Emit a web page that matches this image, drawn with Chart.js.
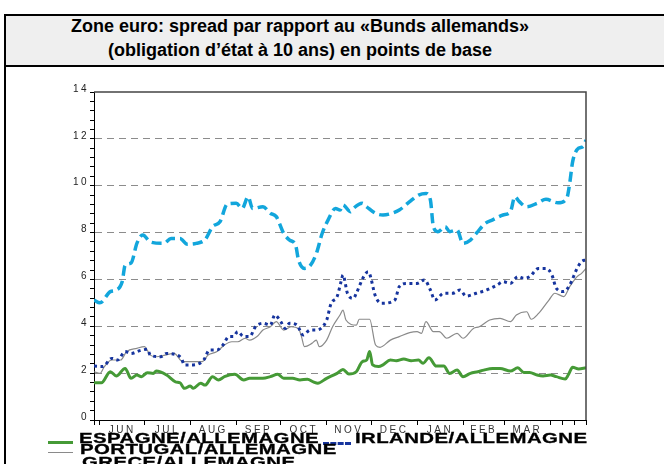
<html lang="fr">
<head>
<meta charset="UTF-8">
<title>Zone euro spread</title>
<script src="https://cdn.jsdelivr.net/npm/chart.js"></script>
<style>
    body { margin: 0; background: #fff; font-family: "Liberation Sans", Arial, sans-serif; }
    #wrap { position: relative; width: 664px; height: 464px; overflow: hidden; }
    #chart { position: absolute; left: 0; top: 0; }
    #titleBox {
        position: absolute; left: 4px; top: 14px; width: 720px; height: 49px;
        background: #efefef; border-top: 2px solid #000; border-bottom: 2px solid #000; border-left: 2px solid #000;
    }
    #titleBox div {
        position: absolute; left: 0; width: 588px; text-align: center;
        font-weight: bold; font-size: 18px; line-height: 20px; color: #000;
    }
    #leftBorder { position: absolute; left: 4px; top: 60px; width: 2px; height: 410px; background: #000; }
    .leg {
        position: absolute; font-weight: bold; font-size: 15px; line-height: 15px; letter-spacing: 0.3px;
        color: #000; white-space: nowrap; -webkit-text-stroke: 0.3px #000;
        transform: scaleX(1.36); transform-origin: 0 0;
    }
    .swatch { position: absolute; }
</style>
</head>
<body>
<div id="wrap">
    <canvas id="chart" width="664" height="464"></canvas>
    <div id="leftBorder"></div>
    <div id="titleBox">
        <div style="top:0">Zone euro: spread par rapport au «Bunds allemands»</div>
        <div style="top:24px">(obligation d’état à 10 ans) en points de base</div>
    </div>
    <div class="swatch" style="left:48px;top:441px;width:25px;height:3px;background:#459a36"></div>
    <div class="leg" style="left:79px;top:430px">ESPAGNE/ALLEMAGNE</div>
    <div class="swatch" style="left:323px;top:442px;width:28px;height:0;border-top:3px dashed #16349e"></div>
    <div class="leg" style="left:355px;top:430px">IRLANDE/ALLEMAGNE</div>
    <div class="swatch" style="left:48px;top:452px;width:25px;height:1px;background:#8a8a8a"></div>
    <div class="leg" style="left:80px;top:441px">PORTUGAL/ALLEMAGNE</div>
    <div class="leg" style="left:82px;top:454px">GRECE/ALLEMAGNE</div>
</div>

<script>
    // x = days from 28 May 2010
    const monthBounds = [0, 4, 34, 65, 96, 126, 157, 187, 218, 249, 277, 308, 316, 324, 332];
    const monthMids = [19, 49.5, 80.5, 111, 141.5, 172, 202.5, 233.5, 263, 292.5];
    const monthLabels = ['JUN', 'JUL', 'AUG', 'SEP', 'OCT', 'NOV', 'DEC', 'JAN', 'FEB', 'MAR'];

    const spainDays = [0, 5, 11, 15, 21, 25, 29, 32, 36, 40, 42, 49, 55, 58, 61, 65, 67, 72, 75, 80, 84, 88, 95, 101, 105, 114, 119, 124, 128, 134, 139, 144, 148, 151, 157, 164, 168, 172, 177, 181, 184, 186, 188, 192, 195, 200, 204, 209, 214, 219, 222, 226, 231, 236, 240, 245, 249, 254, 259, 263, 269, 274, 281, 286, 290, 294, 299, 303, 308, 312, 318, 320, 323, 327, 332];
    const spainValues = [1.59, 1.59, 2.06, 1.88, 2.2, 1.78, 1.92, 1.85, 2.02, 1.99, 2.09, 1.92, 1.63, 1.59, 1.35, 1.45, 1.35, 1.57, 1.49, 1.85, 1.71, 1.85, 1.95, 1.71, 1.78, 1.78, 1.85, 1.95, 1.78, 1.78, 1.71, 1.74, 1.63, 1.57, 1.78, 1.99, 2.16, 1.96, 2.06, 2.49, 2.56, 2.92, 2.35, 2.28, 2.35, 2.56, 2.53, 2.6, 2.53, 2.56, 2.42, 2.66, 2.3, 2.3, 1.99, 2.13, 1.85, 1.99, 2.06, 2.13, 2.2, 2.2, 2.09, 2.23, 2.03, 2.03, 1.92, 1.88, 1.92, 1.85, 1.75, 1.92, 2.25, 2.18, 2.23];

    const irelandDays = [0, 6, 12, 16, 21, 25, 31, 36, 38, 45, 49, 56, 59, 61, 67, 74, 78, 83, 87, 91, 94, 97, 101, 105, 109, 114, 119, 122, 126, 129, 132, 137, 141, 146, 150, 157, 160, 164, 167, 168, 171, 175, 177, 182, 185, 190, 194, 203, 206, 211, 218, 223, 227, 230, 236, 242, 247, 251, 258, 265, 272, 276, 281, 286, 290, 294, 300, 305, 309, 312, 317, 321, 326, 329, 332];
    const irelandValues = [2.3, 2.28, 2.63, 2.56, 2.92, 2.84, 2.96, 3.02, 2.77, 2.7, 2.84, 2.77, 2.63, 2.35, 2.35, 2.56, 2.99, 2.99, 3.2, 3.56, 3.56, 3.77, 3.56, 3.56, 3.98, 4.13, 4.05, 4.48, 4.2, 3.91, 4.13, 4.05, 3.63, 3.84, 3.84, 4.27, 4.98, 5.26, 5.98, 6.19, 5.41, 5.19, 5.41, 6.12, 6.33, 5.27, 4.98, 5.12, 5.69, 5.83, 5.83, 5.98, 5.55, 5.12, 5.41, 5.41, 5.55, 5.29, 5.41, 5.55, 5.76, 5.9, 5.83, 6.12, 6.05, 6.12, 6.47, 6.47, 6.19, 5.62, 5.48, 5.76, 6.47, 6.76, 6.83];

    const portugalDays = [0, 4, 7, 12, 18, 22, 29, 34, 38, 42, 48, 54, 60, 67, 73, 77, 83, 88, 93, 97, 102, 105, 110, 114, 119, 123, 128, 133, 138, 140, 142, 147, 150, 152, 157, 161, 166, 168, 170, 177, 179, 186, 190, 193, 200, 206, 213, 218, 221, 224, 229, 233, 238, 245, 249, 256, 260, 267, 274, 281, 285, 292, 295, 300, 307, 311, 317, 321, 326, 329, 332];
    const portugalValues = [2.06, 1.99, 2.28, 2.56, 2.56, 2.92, 3.06, 3.13, 2.77, 2.7, 2.77, 2.84, 2.49, 2.49, 2.49, 2.77, 2.92, 3.2, 3.34, 3.34, 3.49, 3.41, 3.56, 3.84, 3.98, 4.2, 3.84, 3.98, 3.91, 3.56, 3.13, 3.27, 3.41, 3.13, 3.41, 3.98, 4.48, 4.69, 4.27, 4.05, 4.3, 4.3, 3.2, 3.1, 3.41, 3.56, 3.73, 3.77, 3.7, 4.2, 3.77, 3.77, 3.49, 3.7, 3.49, 3.91, 3.98, 4.27, 4.34, 4.2, 4.48, 4.62, 4.3, 4.55, 5.12, 5.41, 5.27, 5.69, 6.12, 6.26, 6.47];

    const greeceDays = [0, 4, 11, 15, 19, 21, 25, 29, 33, 38, 47, 52, 58, 63, 69, 75, 80, 85, 90, 96, 100, 104, 107, 114, 119, 123, 128, 132, 136, 138, 142, 146, 150, 154, 158, 163, 166, 168, 173, 175, 181, 184, 190, 195, 201, 206, 213, 219, 224, 227, 229, 232, 237, 240, 245, 249, 254, 258, 264, 269, 276, 281, 284, 287, 292, 299, 305, 313, 319, 321, 323, 327, 330, 332];
    const greeceValues = [5.12, 5.0, 5.48, 5.55, 5.9, 6.6, 6.7, 7.55, 7.9, 7.6, 7.54, 7.75, 7.75, 7.5, 7.54, 7.7, 8.25, 8.46, 9.22, 9.25, 9.03, 9.53, 9.03, 9.1, 8.82, 8.68, 7.97, 7.68, 7.47, 6.83, 6.47, 6.6, 7.1, 7.97, 8.54, 9.03, 8.96, 9.18, 8.89, 9.03, 9.25, 9.1, 8.82, 8.75, 8.82, 8.96, 9.32, 9.6, 9.67, 9.39, 8.25, 8.04, 8.25, 8.04, 8.11, 7.54, 7.68, 7.97, 8.39, 8.54, 8.75, 8.89, 9.53, 9.32, 9.1, 9.25, 9.42, 9.27, 9.46, 10.1, 11.03, 11.6, 11.67, 11.95];

    function zip(xs, ys) {
        return xs.map((x, i) => ({ x: x, y: ys[i] }));
    }

    const isMajor = v => Math.abs(v - Math.round(v)) < 1e-6 && Math.round(v) % 2 === 0;

    // wide-spaced axis labels like the original export, plus top/right frame
    const framePlugin = {
        id: 'frame',
        beforeDraw(chart) {
            chart.ctx.letterSpacing = '2.5px';
        },
        afterDraw(chart) {
            const { ctx, chartArea: a } = chart;
            ctx.letterSpacing = '0px';
            ctx.save();
            ctx.strokeStyle = '#444';
            ctx.lineWidth = 1.5;
            ctx.beginPath();
            ctx.moveTo(a.left, a.top);
            ctx.lineTo(a.right, a.top);
            ctx.lineTo(a.right, a.bottom);
            ctx.stroke();
            ctx.restore();
        }
    };

    new Chart(document.getElementById('chart').getContext('2d'), {
        type: 'line',
        data: {
            datasets: [
                {
                    label: 'ESPAGNE/ALLEMAGNE', data: zip(spainDays, spainValues),
                    borderColor: '#459a36', borderWidth: 3
                },
                {
                    label: 'IRLANDE/ALLEMAGNE', data: zip(irelandDays, irelandValues),
                    borderColor: '#16349e', borderWidth: 3, borderDash: [3, 3.5]
                },
                {
                    label: 'PORTUGAL/ALLEMAGNE', data: zip(portugalDays, portugalValues),
                    borderColor: '#8a8a8a', borderWidth: 1.2
                },
                {
                    label: 'GRECE/ALLEMAGNE', data: zip(greeceDays, greeceValues),
                    borderColor: '#12a6dc', borderWidth: 3.5, borderDash: [10, 5]
                }
            ]
        },
        options: {
            responsive: false,
            animation: false,
            elements: { point: { radius: 0 }, line: { tension: 0.3, cubicInterpolationMode: 'monotone' } },
            layout: { padding: { top: 92, right: 78, bottom: 24, left: 0 } },
            plugins: { legend: { display: false }, tooltip: { enabled: false } },
            scales: {
                x: {
                    type: 'linear', min: 0, max: 332,
                    afterBuildTicks: scale => {
                        scale.ticks = monthBounds.concat(monthMids).sort((a, b) => a - b).map(v => ({ value: v }));
                    },
                    afterFit: scale => { scale.height = 20; },
                    grid: {
                        drawOnChartArea: false, tickLength: 5,
                        tickColor: c => (c.tick && monthBounds.includes(c.tick.value)) ? '#000' : 'rgba(0,0,0,0)'
                    },
                    border: { color: '#000', width: 1 },
                    ticks: {
                        autoSkip: false, maxRotation: 0, padding: -1, color: '#333',
                        font: { family: 'Liberation Sans', size: 10 },
                        callback: v => {
                            const i = monthMids.indexOf(v);
                            return i >= 0 ? monthLabels[i] : '';
                        }
                    }
                },
                y: {
                    min: 0, max: 14,
                    afterBuildTicks: scale => {
                        const t = [];
                        for (let i = 0; i <= 35; i++) t.push({ value: Math.round(i * 4) / 10 });
                        scale.ticks = t;
                    },
                    afterFit: scale => { scale.width = 94; },
                    grid: {
                        tickLength: 4, tickBorderDash: [],
                        color: c => (c.tick && isMajor(c.tick.value) && c.tick.value > 0 && c.tick.value < 14) ? '#8c8c8c' : 'rgba(0,0,0,0)',
                        tickColor: '#000', lineWidth: 1
                    },
                    border: { color: '#000', width: 1, dash: [7, 5] },
                    ticks: {
                        autoSkip: false, padding: 1, labelOffset: -3, color: '#222',
                        font: { family: 'Liberation Sans', size: 10 },
                        callback: v => isMajor(v) ? String(Math.round(v)) : ''
                    }
                }
            }
        },
        plugins: [framePlugin]
    });
</script>
</body>
</html>
